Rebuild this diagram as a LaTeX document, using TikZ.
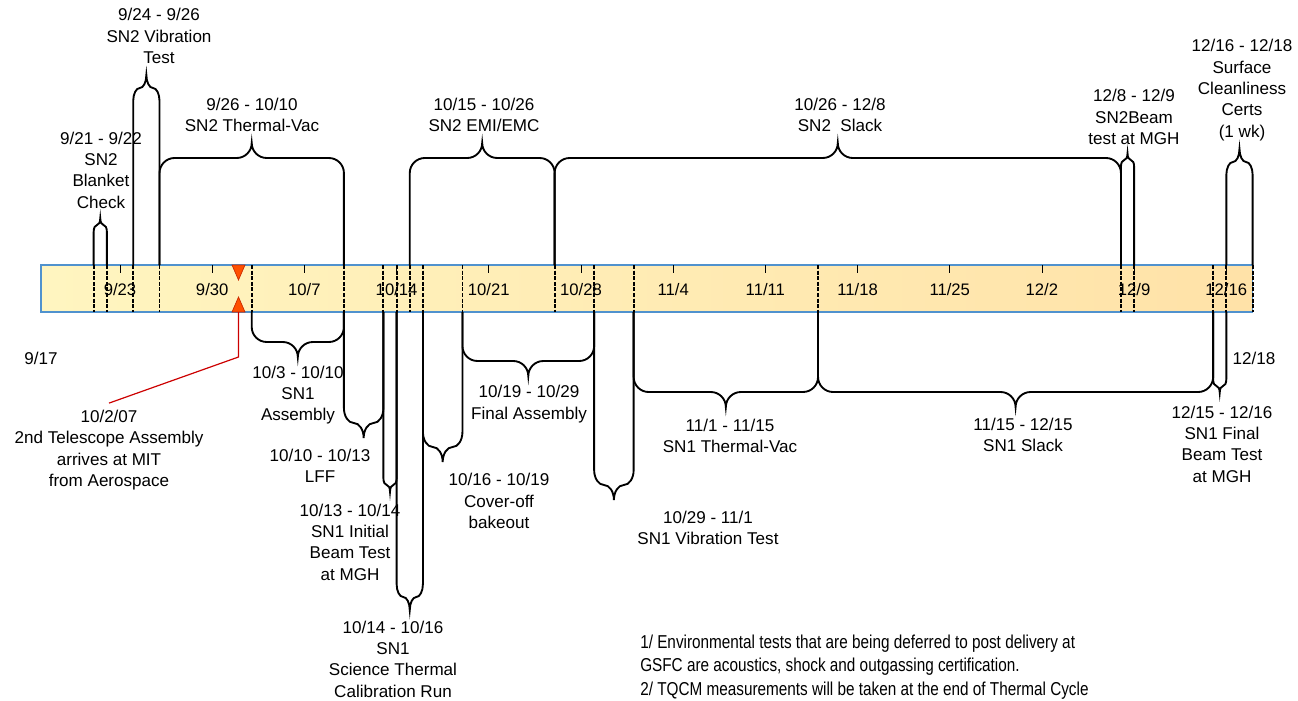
\documentclass[tikz,border=0pt]{standalone}
\usepackage{fontspec}
\setmainfont{Liberation Sans}
\newfontfamily\notefont[FakeStretch=0.82]{Liberation Sans}
\usetikzlibrary{calc}

\definecolor{barleft}{RGB}{255,245,192}
\definecolor{barright}{RGB}{255,226,168}
\definecolor{barblue}{RGB}{80,146,206}
\definecolor{markfill}{RGB}{255,80,0}
\definecolor{markdraw}{RGB}{200,40,0}
\definecolor{leadred}{RGB}{204,0,0}

% x position of a day counted from 9/17
\newcommand{\dayx}[1]{41+13.17*(#1)}
% curly bracket: start day, end day, level, bar edge, direction (-1 up, 1 down)
\newcommand{\bracket}[5]{%
  \pgfmathsetmacro{\bxa}{41+13.17*(#1)}%
  \pgfmathsetmacro{\bxb}{41+13.17*(#2)}%
  \pgfmathsetmacro{\bxm}{(\bxa+\bxb)/2}%
  \pgfmathsetmacro{\brh}{min(15,(\bxb-\bxa)/4)}%
  \pgfmathsetmacro{\brv}{(#5)*min(15,(\bxb-\bxa)/2)}%
  \pgfmathsetmacro{\byarm}{#3-(\brv)}%
  \pgfmathsetmacro{\byca}{#3-0.448*(\brv)}%
  \pgfmathsetmacro{\bytip}{#3+(\brv)}%
  \pgfmathsetmacro{\bycc}{#3+0.448*(\brv)}%
  \draw[inbar] (\bxa,265) -- (\bxa,312);
  \draw[inbar] (\bxb,265) -- (\bxb,312);
  \draw[curly] (\bxa,#4) -- (\bxa,\byarm)
    .. controls (\bxa,\byca) and (\bxa+0.448*\brh,#3) .. (\bxa+\brh,#3)
    -- (\bxm-\brh,#3)
    .. controls (\bxm-0.448*\brh,#3) and (\bxm,\bycc) .. (\bxm,\bytip)
    .. controls (\bxm,\bycc) and (\bxm+0.448*\brh,#3) .. (\bxm+\brh,#3)
    -- (\bxb-\brh,#3)
    .. controls (\bxb-0.448*\brh,#3) and (\bxb,\byca) .. (\bxb,\byarm)
    -- (\bxb,#4);
}

\begin{document}
\begin{tikzpicture}[
  x=0.75pt, y=-0.75pt,
  timebar/.style={draw=barblue, line width=1pt, left color=barleft, right color=barright},
  inbar/.style={line width=1.4pt, dash pattern=on 3pt off 1.2pt},
  curly/.style={line width=1.4pt},
  weektick/.style={line width=0.6pt},
  ticklbl/.style={font=\fontsize{12.5}{15}\selectfont, inner sep=0pt},
  lbl/.style={font=\fontsize{12.8}{16}\selectfont, align=center, inner sep=0pt},
  notetext/.style={font=\notefont\fontsize{14}{17.6}\selectfont, align=left, inner sep=0pt, anchor=west},
  arrivalmark/.style={fill=markfill, draw=markdraw, line width=0.5pt},
  redline/.style={draw=leadred, line width=0.9pt}
]
  \useasboundingbox (0,0) rectangle (1298,700);

  % time bar
  \draw[timebar] ({\dayx{0}},265) rectangle ({\dayx{92}},312);
  \foreach \m/\dd [count=\i from 0] in {9/23,9/30,10/7,10/14,10/21,10/28,11/4,11/11,11/18,11/25,12/2,12/9,12/16} {
    \draw[weektick] ({\dayx{6+7*\i}},265) -- ++(0,8);
    \node[ticklbl] (wk\i) at ({\dayx{6+7*\i}},290) {\m/\dd};
  }
  \node[lbl] (startday) at (41,358) {9/17};
  \node[lbl] (endday) at (1254,358) {12/18};

  % SN2 activities (above)
  \bracket{4}{5}{225}{265}{-1}
  \bracket{7}{9}{88}{265}{-1}
  \bracket{9}{23}{158}{265}{-1}
  \bracket{28}{39}{158}{265}{-1}
  \bracket{39}{82}{158}{265}{-1}
  \bracket{82}{83}{160}{265}{-1}
  \bracket{90}{92}{162}{265}{-1}

  % SN1 activities (below)
  \bracket{16}{23}{342}{312}{1}
  \bracket{23}{26}{423}{312}{1}
  \bracket{26}{27}{485}{312}{1}
  \bracket{27}{29}{597}{312}{1}
  \bracket{29}{32}{447}{312}{1}
  \bracket{32}{42}{361}{312}{1}
  \bracket{42}{45}{485}{312}{1}
  \bracket{45}{59}{392}{312}{1}
  \bracket{59}{89}{392}{312}{1}
  \bracket{89}{90}{386}{312}{1}

  \node[lbl] (sntwoblanket) at (101,170) {9/21 - 9/22\\SN2\\Blanket\\Check};
  \node[lbl] (sntwovib) at (159,36) {9/24 - 9/26\\SN2 Vibration\\Test};
  \node[lbl] (sntwotvac) at (252,115) {9/26 - 10/10\\SN2 Thermal-Vac};
  \node[lbl] (sntwoemi) at (484,115) {10/15 - 10/26\\SN2 EMI/EMC};
  \node[lbl] (sntwoslack) at (840,115) {10/26 - 12/8\\SN2~~Slack};
  \node[lbl] (sntwobeam) at (1134,117) {12/8 - 12/9\\SN2Beam\\test at MGH};
  \node[lbl] (clean) at (1242,90) {12/16 - 12/18\\Surface\\Cleanliness\\Certs\\(1 wk)};

  \node[lbl] (snoneasm) at (298,395) {10/3 - 10/10\\SN1\\Assembly};
  \node[lbl] (lff) at (320,466) {10/10 - 10/13\\LFF};
  \node[lbl] (snoneinit) at (350,542) {10/13 - 10/14\\SN1 Initial\\Beam Test\\at MGH};
  \node[lbl] (snonecal) at (393,659) {10/14 - 10/16\\SN1\\Science Thermal\\Calibration Run};
  \node[lbl] (bakeout) at (499,501) {10/16 - 10/19\\Cover-off\\bakeout};
  \node[lbl] (finalasm) at (529,404) {10/19 - 10/29\\Final Assembly};
  \node[lbl] (snonevib) at (708,528) {10/29 - 11/1\\SN1 Vibration Test};
  \node[lbl] (snonetvac) at (730,436) {11/1 - 11/15\\SN1 Thermal-Vac};
  \node[lbl] (snoneslack) at (1023,435) {11/15 - 12/15\\SN1 Slack};
  \node[lbl] (snonefinal) at (1222,444) {12/15 - 12/16\\SN1 Final\\Beam Test\\at MGH};

  % telescope arrival
  \fill[arrivalmark] (232,265) -- (245,265) -- (238.5,280) -- cycle;
  \fill[arrivalmark] (232,312) -- (245,312) -- (238.5,297) -- cycle;
  \coordinate (arrmark) at (238.5,312);
  \node[lbl] (arrival) at (109,450) {10/2/07\\2nd Telescope Assembly\\arrives at MIT\\from Aerospace};
  \draw[redline] (arrmark) -- ++(0,45) -- ([yshift=5pt]arrival.north);

  \node[notetext] (notes) at (640,667) {1/ Environmental tests that are being deferred to post delivery at\\GSFC are acoustics, shock and outgassing certification.\\2/ TQCM measurements will be taken at the end of Thermal Cycle};
\end{tikzpicture}
\end{document}
